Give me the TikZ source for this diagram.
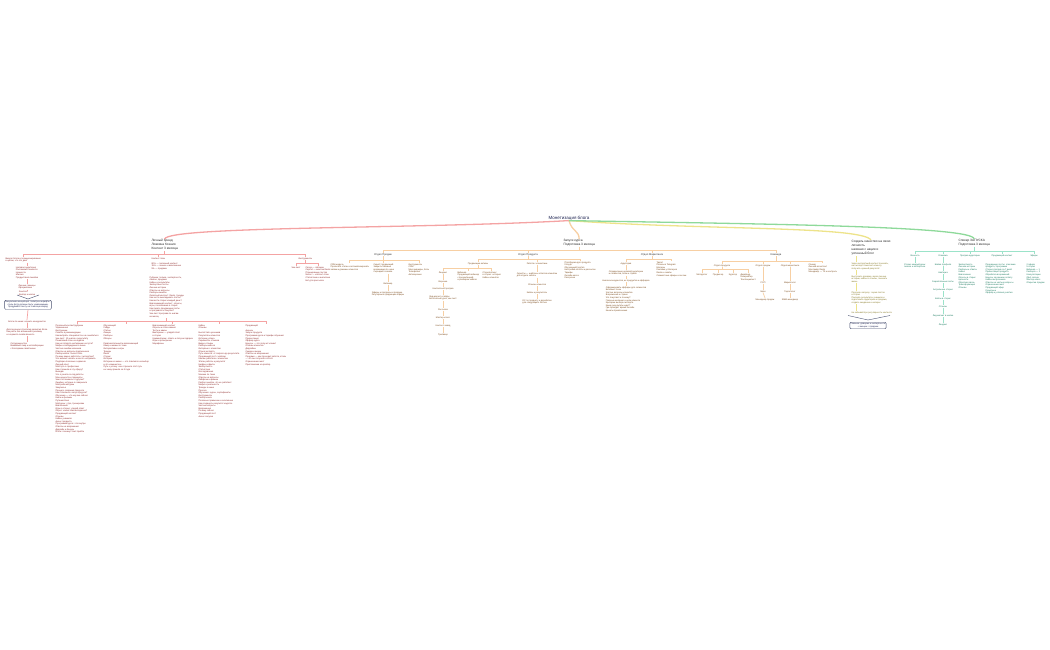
\documentclass[tikz,border=0pt]{standalone}
\usepackage{fontspec}
\setmainfont{Liberation Sans}
\definecolor{rline}{HTML}{F4A3A3}
\definecolor{rtext}{HTML}{8E2B2B}
\definecolor{oline}{HTML}{F7CFA3}
\definecolor{otext}{HTML}{7A4A1C}
\definecolor{yline}{HTML}{EDE38A}
\definecolor{ytext}{HTML}{857722}
\definecolor{gline}{HTML}{9BE3C9}
\definecolor{gtop}{HTML}{8ED99A}
\definecolor{gtext}{HTML}{1B7A5F}
\definecolor{navy}{HTML}{1E2452}
\definecolor{boxc}{HTML}{4A5170}

\begin{document}
\begin{tikzpicture}[x=1pt,y=-1pt,
  every node/.style={inner sep=0.3pt,align=left,font=\fontsize{2.2}{2.6}\selectfont},
  lst/.style={anchor=north west},
  itm/.style={anchor=north},
  head/.style={anchor=north west,text=black!85,font=\fontsize{3.2}{4}\selectfont},
  sub/.style={anchor=north,text=black!80,font=\fontsize{2.6}{3.1}\selectfont},
  note/.style={anchor=north,draw=boxc,line width=0.4pt,rounded corners=1.2pt,inner sep=1pt,text=navy,align=center},
  rl/.style={draw=rline,line width=0.7pt},
  ol/.style={draw=oline,line width=0.7pt},
  yl/.style={draw=yline,line width=0.7pt},
  gl/.style={draw=gline,line width=0.7pt}]
\useasboundingbox (0,0) rectangle (1050,650);

\node[text=navy,font=\fontsize{4.5}{5}\selectfont] (root) at (569,218) {Монетизация блога};

\begin{scope}[every node/.append style={text=rtext}]
\node[head] (L1) at (151,239) {Личный бренд\\Ложкина Ксения\\Контент 3 месяца};
\node[lst] (vis) at (5,257) {Визуал блога и позиционирование\\в целом, что это дает};
\node[lst] (plan) at (151,257) {Контент план};
\node[lst] (instr) at (298,257) {Инструменты};
\foreach \c in {vis,plan,instr} \draw[rl] (L1.south) -- (L1.south |- 0,254) -| (\c.north);

\node[itm] (v1) at (27,266) {Целевая аудитория\\Распаковка личности\\Ценности\\Миссия\\Продуктовая линейка};
\node[itm] (v2) at (27,284) {Личные границы\\Оформление};
\node[itm] (v3) at (27,290.5) {Хештеги\\Аватар и шапка};
\node[note] (vbox) at (28,300) {Визуальная концепция: палитра и шрифты,\\стиль фото должны быть узнаваемыми.\\Продумайте ленту на 3 месяца вперёд};
\node[itm] (v4) at (27,320) {Блоги по нише: изучить конкурентов};
\node[itm] (v5) at (27,328) {Долгосрочная стратегия развития блога\\Как расти без вложений в рекламу\\и сохранять вовлечённость};
\node[itm] (v6) at (27,342) {Сотрудничество\\Взаимный пиар и коллаборации\\с блогерами своей ниши};
\draw[rl] (v1.north |- vis.south) -- (v1.north);
\foreach \a/\b in {v1/v2,v2/v3,vbox/v4,v4/v5,v5/v6} \draw[rl] (\a.south) -- (\b.north);
\draw[boxc,line width=0.4pt] (17,295) -- (28,299) -- (39,295);

\node[lst] (p1) at (151,262) {80\% — полезный контент\\15\% — личное и вовлечение\\5\% — продажи};
\node[lst] (p2) at (149,276) {Рубрики: польза, экспертность,\\личное, продажи\\Кейсы и результаты\\Экспертные посты\\Личные истории\\Ответы на вопросы\\Разборы ошибок\\Охватный контент: Reels, тренды\\Как часто выкладывать посты?\\Как вести сторис каждый день?\\Вовлекающий контент: опросы,\\игры, голосования в сторис\\Как писать продающие посты\\и прогревать к покупке?\\Чек-лист прогрева по шагам\\на месяц};

\node[lst] (c1) at (55,324) {Полезный контент/рубрики\\Упражнения\\Инструкции\\Советы и рекомендации\\Как выбрать специалиста и не ошибиться\\Чек-лист: 10 шагов к результату\\Пошаговый план на неделю\\Как не потерять мотивацию на пути?\\Мифы и заблуждения в нише\\Частые ошибки новичков\\Ответы на вопросы подписчиков\\Разбор кейса: было/стало\\Почему важно работать с экспертом?\\Что мешает начать и как это исправить\\Подборка полезных сервисов\\Личный опыт\\Мой путь в профессию\\Как я пришла в эту сферу?\\Выводы\\Что я узнала за год работы\\Мои ценности и принципы\\Чем я отличаюсь от других?\\Ошибки, которые я совершала\\Мой рабочий день\\Закулисье\\Процесс создания продукта\\Как готовлюсь к запуску курса?\\Обучение — что изучаю сейчас\\Книги и фильмы\\Путешествия\\Мой день: утро, тренировки\\Вовлечение\\Игры в сторис: угадай ответ\\Опрос: какая тема интересна?\\Продающий контент\\Отзывы\\Кейсы учеников\\Анонс продукта\\Программа курса: что внутри\\Ответы на возражения\\Дедлайн и бонусы\\Итоги: почему стоит прийти};
\node[lst] (c2) at (103,324) {Обучающий\\Гайды\\Статьи\\Лекции\\Разборы\\Обзоры\\\\Развлекательный и вовлекающий\\Юмор и мемы по теме\\Интерактивы и игры\\Тренды\\Reels\\Сторис\\Истории\\Истории из жизни — что повлияло на выбор\\и что изменилось\\Путь к успеху: как я прошла этот путь\\и к чему пришла за 3 года};
\node[lst] (c3) at (152,324) {Вовлекающий контент\\Опросы и голосования\\Тесты и квизы\\Викторины — угадай ответ\\в сторис\\Комментарии: ответь и получи подарок\\Игры и розыгрыши\\Марафоны};
\node[lst] (c4) at (198,324) {Кейсы\\Отзывы\\\\Было/стало учеников\\Результаты клиентов\\Истории успеха\\Скриншоты отзывов\\Видео-отзывы\\Разборы кейсов\\Интервью с клиентом\\Отзыв эксперта\\Путь клиента: от запроса до результата\\Продающий пост с кейсом\\Как мы работали с клиентом\\Этапы работы и результат\\Цифры и факты\\Экспертность\\Статистика\\Исследования\\Мнение по теме\\Ответы на вопросы\\Лайфхаки и фишки\\Разбор ошибок, что не работает\\Мифы и реальность\\Тренды в нише\\Прогноз\\Обучение: курсы, сертификаты\\Инструменты\\Разбор книги\\Полезные привычки и их влияние\\Как сохранить результат надолго\\Частые вопросы\\Возражения\\Почему сейчас\\Продающий пост\\Анонс запуска};
\node[lst] (c5) at (245,324) {Продающий\\\\Анонсы\\Запуск продукта\\Программа курса и тарифы обучения\\Презентация\\Оффер курса\\Бонусы — что получит клиент\\Отзывы клиентов\\Дедлайны\\Скидки и акции\\Ответы на возражения\\Продажи — как проходит работа, этапы\\— что вы получите в итоге\\Ограничение мест\\Приглашение на разбор};
\foreach \c in {c1,c2,c3,c4,c5} \draw[rl] (p2.south) -- (p2.south |- 0,321) -| (\c.north);

\node[itm] (ck) at (296,266) {Чек-лист};
\node[lst] (il) at (305,266) {Canva — обложки\\CapCut — монтаж Reels\\Планировщик постов\\Notion — контент-план\\Статистика и аналитика\\Бот для рассылок};
\foreach \c in {ck,il} \draw[rl] (instr.south) -- (instr.south |- 0,263.5) -| (\c.north);
\end{scope}

\begin{scope}[every node/.append style={text=otext}]
\node[head] (Z) at (563,239) {Запуск курса\\Подготовка 3 месяца};
\node[sub] (sal) at (383,253) {Отдел Продаж};
\node[sub] (prd) at (528,253) {Отдел Продукта};
\node[sub] (mkt) at (652,253) {Отдел Маркетинга};
\node[sub] (kom) at (776,253) {Команда};
\foreach \c in {sal,prd,mkt,kom} \draw[ol] (Z.south) -- (Z.south |- 0,250) -| (\c.north);

\node[lst] (s1) at (330,263) {CRM-модуль\\Прописать этапы и автоматизировать\\заявки и дожимы клиентов};
\node[lst] (s2) at (373,263) {Скрипт продающий\\Закрыть базовые\\возражения по цене\\Сценарий созвона};
\node[lst] (s3) at (408,263) {Инструменты\\CRM\\Мессенджеры, боты\\Телефония\\Автоворонки};
\foreach \c in {s1,s2,s3} \draw[ol] (sal.south) -- (sal.south |- 0,260) -| (\c.north);
\node[itm] (s2a) at (388,282) {Вебинар};
\node[itm] (s2b) at (388,291) {Эфиры и прогревы к продаже\\Регулярные продающие эфиры};
\draw[ol] (s2a.north |- s2.south) -- (s2a.north);
\draw[ol] (s2a.south) -- (s2b.north);

\node[itm] (pa) at (478,262) {Продающие активы};
\node[itm] (rc) at (537,262) {Работа с клиентами};
\node[lst] (pl) at (564,261) {Платформа для продукта\\Геткурс\\Обучающий портал\\Настройка оплаты и рассылок\\Тарифы\\Онлайн-касса\\Рассрочка};
\foreach \c in {pa,rc,pl} \draw[ol] (prd.south) -- (prd.south |- 0,259) -| (\c.north);

\node[itm] (ld) at (443,271) {Лендинг};
\node[lst] (pa2) at (457,271) {Вебинар\\Продающий вебинар\\с презентацией\\и разбором кейсов};
\node[lst] (pa3) at (482,271) {Сторителлинг\\в сторис: история\\Кейсы клиентов};
\foreach \c in {ld,pa2,pa3} \draw[ol] (pa.south) -- (pa.south |- 0,268) -| (\c.north);
\node[itm] (l1) at (443,280) {Воронка};
\node[itm] (l2) at (443,287) {Контентный прогрев};
\node[itm] (l3) at (443,295) {Лид-магнит и гайды\\Бесплатный урок, чек-лист};
\node[itm] (l4) at (443,308) {Рассылка};
\node[itm] (l5) at (443,316) {Мастер-класс};
\node[itm] (l6) at (443,324) {Контент-завод};
\node[itm] (l7) at (443,333) {Трипваер};
\foreach \a/\b in {ld/l1,l1/l2,l2/l3,l3/l4,l4/l5,l5/l6,l6/l7} \draw[ol] (\a.south) -- (\b.north);

\node[itm] (rc1) at (537,272) {Скрипты — шаблоны ответов клиентам\\для отдела заботы};
\node[itm] (rc2) at (537,283) {Отзывы клиентов};
\node[itm] (rc3) at (537,291) {Кейсы и результаты};
\node[itm] (rc4) at (537,299) {ОС по продукту и доработки\\для следующего потока};
\foreach \a/\b in {rc/rc1,rc1/rc2,rc2/rc3,rc3/rc4} \draw[ol] (\a.south) -- (\b.north);

\node[itm] (au) at (626,262) {Аудитория};
\node[lst] (ml) at (656,261) {Таргет\\Посевы в Telegram\\Блогеры\\Реклама у блогеров\\Reels и охваты\\Совместные эфиры и сессии};
\foreach \c in {au,ml} \draw[ol] (mkt.south) -- (mkt.south |- 0,259) -| (\c.north);
\node[itm] (a1) at (626,270) {Определение целевой аудитории\\и сегментов, боли и страхи};
\node[itm] (a2) at (626,279) {Анализ конкурентов, их продуктов и офферов};
\node[itm] (a3) at (626,286) {Сформировать офферы для сегментов\\Болевые точки\\Частые вопросы клиентов\\Возражения и страхи\\Что покупают и почему?\\Главные желания и цели клиента\\Критерии выбора эксперта\\Какие результаты ждут?\\Где проводят время онлайн\\Каналы привлечения};
\foreach \a/\b in {au/a1,a1/a2,a2/a3} \draw[ol] (\a.south) -- (\b.north);

\node[itm] (kp) at (722,264) {Отдел продукта};
\node[itm] (ks) at (763,264) {Отдел продаж};
\node[itm] (km) at (790,264) {Отдел маркетинга};
\node[lst] (kl) at (808,263) {Спикер\\Личный ассистент\\Монтажёр Reels\\Менеджер — ТЗ и контроль};
\foreach \c in {kp,ks,km,kl} \draw[ol] (kom.south) -- (kom.south |- 0,261) -| (\c.north);
\node[itm] (k1) at (702,273) {Методолог};
\node[itm] (k2) at (718,273) {Продюсер};
\node[itm] (k3) at (733,273) {Куратор};
\node[lst] (k4) at (740,273) {Дизайнер\\Копирайтер\\Техспециалист};
\foreach \c in {k1,k2,k3,k4} \draw[ol] (kp.south) -- (kp.south |- 0,269.5) -| (\c.north);
\node[itm] (ks1) at (763,281) {РОП};
\node[itm] (ks2) at (763,290) {Sales};
\node[itm] (ks3) at (765,298) {Менеджер продаж};
\node[itm] (km1) at (790,281) {Маркетолог};
\node[itm] (km2) at (790,290) {Таргетолог};
\node[itm] (km3) at (790,298) {SMM-менеджер};
\foreach \a/\b in {ks/ks1,ks1/ks2,ks2/ks3,km/km1,km1/km2,km2/km3} \draw[ol] (\a.south) -- (\b.north);
\end{scope}

\begin{scope}[every node/.append style={text=ytext}]
\node[head] (S) at (851,240) {Создать качество на свою\\личность\\начиная с акции и\\успешный блог};
\node[lst] (y1) at (851,262) {Через экспертный контент показать,\\как эксперт помогает клиенту\\получить нужный результат};
\node[lst] (y2) at (851,275) {Выстроить доверие через личные\\истории, кейсы и отзывы, показать\\жизнь};
\node[lst] (y3) at (851,291) {Прогрев к запуску: серия постов\\и сторис\\Показать результаты учеников и\\подготовить аудиторию к продаже,\\создать ожидание и интерес};
\node[lst] (y4) at (851,311) {Не забывай про регулярность контента};
\node[note] (ybox) at (868,322) {Главное: доверие и экспертность\\+ эмоции = продажи};
\foreach \a/\b in {S/y1,y1/y2,y2/y3,y3/y4} \draw[yl] ([xshift=5pt]\a.south west) -- ([xshift=5pt]\b.north west);
\draw[boxc,line width=0.4pt] (848,315.5) -- (868,320) -- (890,315.5);
\end{scope}

\begin{scope}[every node/.append style={text=gtext}]
\node[head] (SP) at (958,239) {Спикер ЗАПУСКА\\Подготовка 3 месяца};
\node[itm] (g1) at (915,254) {Личность};
\node[itm] (g2) at (943,254) {Упаковка};
\node[itm] (g3) at (970,254) {Прогрев аудитории};
\node[itm] (g4) at (1002,254) {Продающий контент};
\node[itm] (g5) at (1034,254) {Эфиры};
\foreach \c in {g1,g2,g3,g4,g5} \draw[gl] (SP.south) -- (SP.south |- 0,251) -| (\c.north);
\node[itm] (g1a) at (915,263) {Сторис каждый день:\\личное и экспертное};
\draw[gl] (g1.south) -- (g1a.north);
\node[itm] (u1) at (943,263) {Шапка профиля};
\node[itm] (u2) at (943,271) {Аватарка};
\node[itm] (u3) at (943,280) {Закреплённые посты};
\node[itm] (u4) at (943,288) {Актуальные сторис};
\node[itm] (u5) at (943,297) {Кейсы в сторис};
\node[itm] (u6) at (943,305) {Отзывы};
\node[itm] (u7) at (943,314) {Лид-магнит в шапке};
\node[itm] (u8) at (943,323) {Лендинг};
\foreach \a/\b in {g2/u1,u1/u2,u2/u3,u3/u4,u4/u5,u5/u6,u6/u7,u7/u8} \draw[gl] (\a.south) -- (\b.north);
\node[lst] (g3a) at (958,263) {Экспертность\\Личные истории\\Разборы и ответы\\Кейсы\\Вовлечение\\Опросы в сторис\\Ценности\\Обратная связь\\Трансформация\\Отзывы};
\node[lst] (g4a) at (985,263) {Продающие посты: описание\\продукта, программа\\Сторис-прогрев за 7 дней\\Презентация продукта\\Обработка возражений\\Бонусы за раннюю оплату\\Кейсы выпускников\\Ответы на частые вопросы\\Ограничение мест\\Продающий эфир\\Розыгрыш\\Оффер и условия участия};
\node[lst] (g5a) at (1026,263) {2 эфира\\5 сторис\\Вебинар — 1\\Разборы — 2\\Консультации\\Q\&A сессии\\Мастер-класс\\Открытие продаж};
\end{scope}

\draw[rl,line width=1.3pt] (root.south) .. controls (420,229) and (168,226) .. (L1.north);
\draw[ol,line width=1.3pt] (root.south) .. controls (572,232) and (579,230) .. (Z.north);
\draw[yl,line width=1.3pt] (root.south) .. controls (700,230) and (862,226) .. (S.north);
\draw[gtop,line width=1.3pt] (root.south) .. controls (760,224) and (974,226) .. (SP.north);

\end{tikzpicture}
\end{document}
